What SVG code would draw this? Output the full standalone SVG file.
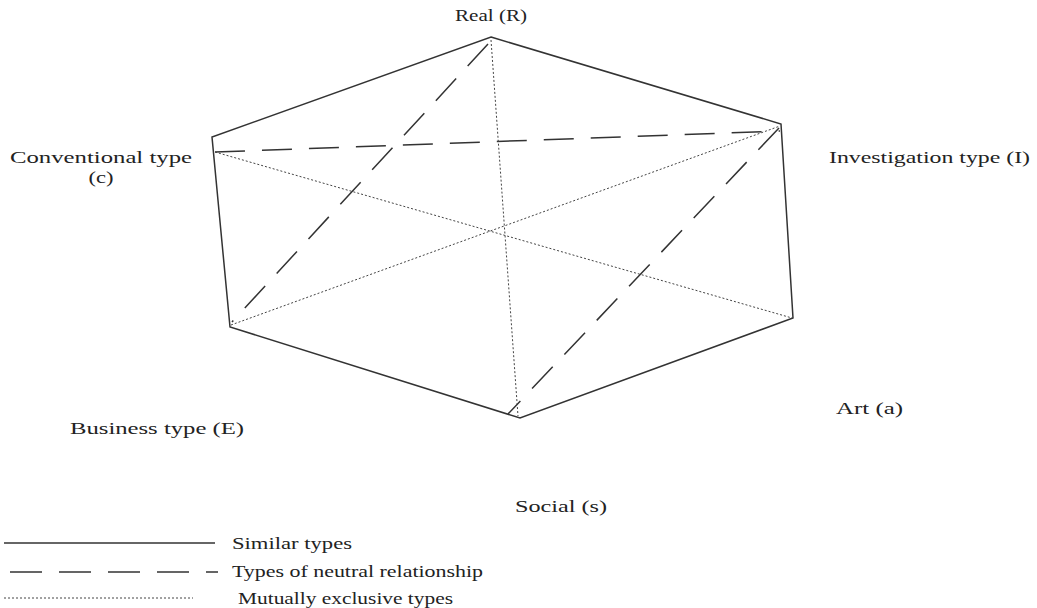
<svg xmlns="http://www.w3.org/2000/svg" width="1037" height="608" viewBox="0 0 1037 608">
<style>
text{font-family:"Liberation Serif","Times New Roman",serif;font-size:16px;fill:#222}
.s{stroke:#333;stroke-width:1.5;fill:none}
.d{stroke:#333;stroke-width:1.5;fill:none;stroke-dasharray:30 17}
.o{stroke:#444;stroke-width:1;fill:none;stroke-dasharray:2 2}
</style>
<rect width="1037" height="608" fill="#fff"/>
<g id="connectors">
<polygon class="s" points="491,37 781,124 793,318 520,418 230,327 212,137"/>
<line class="d" x1="215" y1="152" x2="780" y2="131"/>
<line class="d" x1="488" y1="44" x2="232" y2="322"/>
<line class="d" x1="779" y1="128" x2="508" y2="414"/>
<line class="o" x1="491" y1="40" x2="518" y2="416"/>
<line class="o" x1="215" y1="152" x2="792" y2="318"/>
<line class="o" x1="231" y1="325" x2="780" y2="126"/>
</g>
<g id="node-R"><text x="491" y="21" text-anchor="middle" textLength="72" lengthAdjust="spacingAndGlyphs">Real (R)</text></g>
<g id="node-C"><text x="101" y="163" text-anchor="middle" textLength="182" lengthAdjust="spacingAndGlyphs">Conventional type</text><text x="101" y="183" text-anchor="middle" textLength="25" lengthAdjust="spacingAndGlyphs">(c)</text></g>
<g id="node-I"><text x="829" y="163" textLength="201" lengthAdjust="spacingAndGlyphs">Investigation type (I)</text></g>
<g id="node-A"><text x="836" y="414" textLength="67" lengthAdjust="spacingAndGlyphs">Art (a)</text></g>
<g id="node-E"><text x="70" y="434" textLength="174" lengthAdjust="spacingAndGlyphs">Business type (E)</text></g>
<g id="node-S"><text x="515" y="512" textLength="92" lengthAdjust="spacingAndGlyphs">Social (s)</text></g>
<g id="legend">
<line class="s" x1="4" y1="543" x2="215" y2="543"/>
<text x="232" y="549" textLength="120" lengthAdjust="spacingAndGlyphs">Similar types</text>
<line class="s" x1="10" y1="572" x2="218" y2="572" stroke-dasharray="32 17"/>
<text x="232" y="577" textLength="251" lengthAdjust="spacingAndGlyphs">Types of neutral relationship</text>
<line class="o" x1="4" y1="598" x2="193" y2="598"/>
<text x="238" y="604" textLength="215" lengthAdjust="spacingAndGlyphs">Mutually exclusive types</text>
</g>
</svg>
